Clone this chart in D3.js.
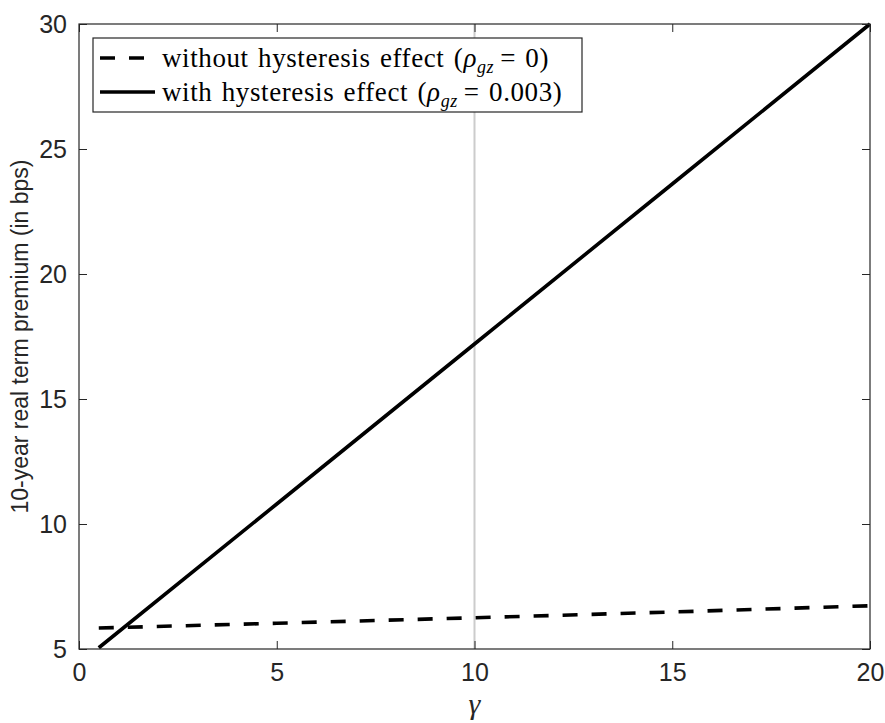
<!DOCTYPE html>
<html>
<head>
<meta charset="utf-8">
<script src="https://cdn.jsdelivr.net/npm/d3@7"></script>
<style>
  body { margin: 0; background: #fff; }
  text { font-family: "Liberation Sans", Arial, sans-serif; }
</style>
</head>
<body>
<div id="container"></div>
<script>
/* CONSTANTS AND GLOBALS */
const width = 885;
const height = 723;
const margin = { top: 24, right: 15, bottom: 74, left: 79 };

// values
const gamma = [0.5, 5, 10, 15, 20];
const withHysteresis = [5.05, 10.8, 17.2, 23.6, 30.0];
const withoutHysteresis = [5.84, 6.03, 6.25, 6.48, 6.73];
const xTicks = [0, 5, 10, 15, 20];
const yTicks = [5, 10, 15, 20, 25, 30];
const markerGamma = 10;

const axisColor = "#262626";

/* SCALES */
const xScale = d3.scaleLinear()
  .domain([0, 20])
  .range([margin.left, width - margin.right]);

const yScale = d3.scaleLinear()
  .domain([5, 30])
  .range([height - margin.bottom, margin.top]);

/* HTML ELEMENTS */
const svg = d3.select("#container")
  .append("svg")
  .attr("width", width)
  .attr("height", height);

const x0 = xScale.range()[0], x1 = xScale.range()[1];
const y0 = yScale.range()[0], y1 = yScale.range()[1];

// vertical marker at gamma = 10
svg.append("line")
  .attr("x1", xScale(markerGamma)).attr("x2", xScale(markerGamma))
  .attr("y1", y1).attr("y2", y0)
  .attr("stroke", "#cccccc")
  .attr("stroke-width", 2);

// lines
const line = d3.line()
  .x((d, i) => xScale(gamma[i]))
  .y(d => yScale(d));

svg.append("path")
  .attr("d", line(withoutHysteresis))
  .attr("fill", "none")
  .attr("stroke", "#000")
  .attr("stroke-width", 3.6)
  .attr("stroke-dasharray", "15,14");

svg.append("path")
  .attr("d", line(withHysteresis))
  .attr("fill", "none")
  .attr("stroke", "#000")
  .attr("stroke-width", 3.6);

// axes (ticks inside, box on)
const tick = 8;
const bottomAxis = d3.axisBottom(xScale).tickValues(xTicks).tickSize(-tick).tickPadding(14);
const topAxis = d3.axisTop(xScale).tickValues(xTicks).tickSize(-tick).tickFormat("");
const leftAxis = d3.axisLeft(yScale).tickValues(yTicks).tickSize(-tick).tickPadding(12);
const rightAxis = d3.axisRight(yScale).tickValues(yTicks).tickSize(-tick).tickFormat("");

function styleAxis(g) {
  g.select(".domain").remove();
  g.selectAll("line").attr("stroke", axisColor).attr("stroke-width", 1);
  g.selectAll("text")
    .attr("fill", axisColor)
    .style("font-size", "25px")
    .style("font-family", "'Liberation Sans', Arial, sans-serif");
}

svg.append("g").attr("transform", `translate(0,${y0})`).call(bottomAxis).call(styleAxis);
svg.append("g").attr("transform", `translate(0,${y1})`).call(topAxis).call(styleAxis);
svg.append("g").attr("transform", `translate(${x0},0)`).call(leftAxis).call(styleAxis);
svg.append("g").attr("transform", `translate(${x1},0)`).call(rightAxis).call(styleAxis);

// frame
svg.append("rect")
  .attr("x", x0).attr("y", y1)
  .attr("width", x1 - x0).attr("height", y0 - y1)
  .attr("fill", "none")
  .attr("stroke", axisColor)
  .attr("stroke-width", 1.2);

// axis labels
svg.append("text")
  .attr("x", xScale(10))
  .attr("y", 714)
  .attr("text-anchor", "middle")
  .style("font-family", "'Liberation Serif', 'DejaVu Serif', serif")
  .style("font-style", "italic")
  .style("font-size", "30px")
  .attr("fill", axisColor)
  .text("γ");

svg.append("text")
  .attr("transform", `translate(28,${(y0 + y1) / 2}) rotate(-90)`)
  .attr("text-anchor", "middle")
  .style("font-size", "23px")
  .attr("fill", axisColor)
  .text("10-year real term premium (in bps)");

// legend
const legend = svg.append("g");
legend.append("rect")
  .attr("x", 93).attr("y", 38)
  .attr("width", 489).attr("height", 74)
  .attr("fill", "#fff")
  .attr("stroke", axisColor)
  .attr("stroke-width", 1.2);

const legendItems = [
  { dash: "15,14", label: "without hysteresis effect (", value: "0" },
  { dash: null, label: "with hysteresis effect (", value: "0.003" }
];

legendItems.forEach((d, i) => {
  const cy = 58 + i * 34;
  legend.append("line")
    .attr("x1", 100).attr("x2", 155)
    .attr("y1", cy).attr("y2", cy)
    .attr("stroke", "#000")
    .attr("stroke-width", 3.6)
    .attr("stroke-dasharray", d.dash);

  const t = legend.append("text")
    .attr("x", 162)
    .attr("y", cy + 9)
    .style("font-family", "'Liberation Serif', 'DejaVu Serif', serif")
    .style("font-size", "27px")
    .style("letter-spacing", "0.6px")
    .style("word-spacing", "2px")
    .attr("fill", "#000");
  t.append("tspan").text(d.label);
  t.append("tspan").style("font-style", "italic").text("ρ");
  t.append("tspan").attr("dy", 6).style("font-style", "italic").style("font-size", "18px").text("gz");
  t.append("tspan").attr("dy", -6).text("\u2009= " + d.value + ")");
});
</script>
</body>
</html>
